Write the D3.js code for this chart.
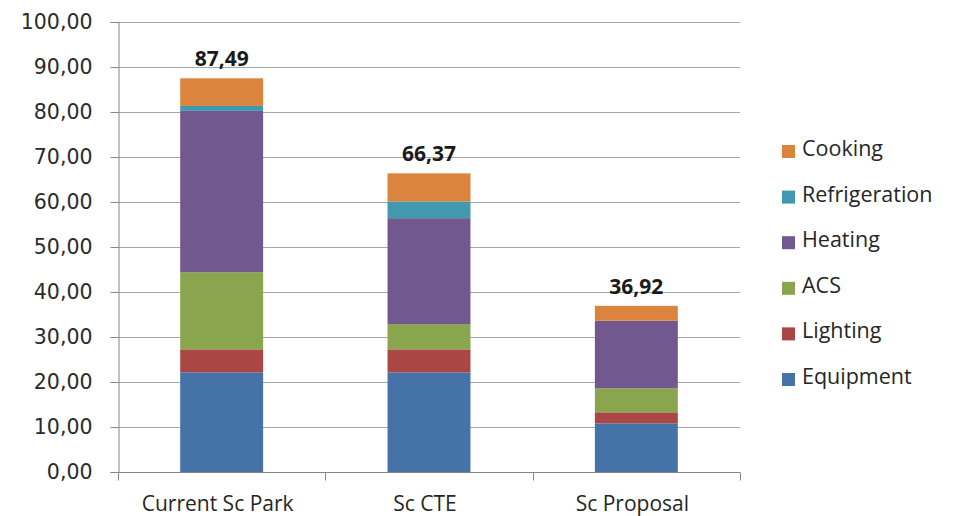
<!DOCTYPE html>
<html><head><meta charset="utf-8">
<script src="https://cdn.jsdelivr.net/npm/d3@7"></script>
<style>body{margin:0;background:#fff}svg{display:block}</style>
</head><body>
<script>
const categories = ["Current Sc Park", "Sc CTE", "Sc Proposal"];
const seriesNames = ["Equipment", "Lighting", "ACS", "Heating", "Refrigeration", "Cooking"];
const equipment = [22.15, 22.14, 10.81];
const lighting = [5.10, 5.11, 2.45];
const acs = [17.15, 5.62, 5.33];
const heating = [35.85, 23.54, 15.01];
const refrigeration = [1.10, 3.71, 0];
const cooking = [6.14, 6.25, 3.32];
const totals = [87.49, 66.37, 36.92];
const yTicks = [0, 10, 20, 30, 40, 50, 60, 70, 80, 90, 100];
const colors = ["#4572A7", "#AA4643", "#89A54E", "#71588F", "#4198AF", "#DB843D"];

const seriesValues = [equipment, lighting, acs, heating, refrigeration, cooking];
const rows = categories.map((c, i) => {
  const r = {cat: c};
  seriesNames.forEach((s, j) => r[s] = seriesValues[j][i]);
  return r;
});

const W = 955, H = 516;
const svg = d3.select("body").append("svg").attr("width", W).attr("height", H);
const mLeft = 118, mRight = 740, mTop = 22, mBottom = 472;

const x = d3.scaleBand().domain(categories).range([mLeft, mRight]).paddingInner(0.6).paddingOuter(0.3);
const xb = d3.scaleBand().domain(categories).range([mLeft, mRight]);
const y = d3.scaleLinear().domain([0, 100]).range([mBottom, mTop]);

// gridlines
svg.append("g").selectAll("line").data(yTicks.filter(d => d > 0)).join("line")
  .attr("x1", mLeft).attr("x2", mRight)
  .attr("y1", d => Math.round(y(d)) + 0.5).attr("y2", d => Math.round(y(d)) + 0.5)
  .attr("stroke", "#A6A6A6").attr("stroke-width", 1);

// stacked bars
const stack = d3.stack().keys(seriesNames)(rows);
svg.append("g").selectAll("g").data(stack).join("g")
  .attr("fill", (d, i) => colors[i])
  .selectAll("rect").data(d => d).join("rect")
  .attr("x", d => x(d.data.cat))
  .attr("width", x.bandwidth())
  .attr("y", d => y(d[1]))
  .attr("height", d => y(d[0]) - y(d[1]));

// y axis
const yAxis = d3.axisLeft(y).tickValues(yTicks).tickSize(8).tickPadding(18)
  .tickFormat(d => d3.format(".2f")(d).replace(".", ","));
const gy = svg.append("g").attr("transform", `translate(${mLeft + 0.5},0)`).call(yAxis);
gy.select(".domain").attr("stroke", "#868686");
gy.selectAll(".tick line").attr("stroke", "#868686");
gy.selectAll(".tick text").attr("font-family", "'DejaVu Sans', Verdana, sans-serif")
  .attr("font-size", 20.5).attr("fill", "#2b2b2b");

// x axis
const gx = svg.append("g").attr("transform", `translate(0,${mBottom + 0.5})`);
gx.append("line").attr("x1", mLeft).attr("x2", mRight).attr("stroke", "#868686");
const bounds = [mLeft, ...categories.map(c => xb(c) + xb.bandwidth())];
gx.selectAll("line.tk").data(bounds).join("line").attr("class", "tk")
  .attr("x1", d => Math.round(d) + 0.5).attr("x2", d => Math.round(d) + 0.5)
  .attr("y1", 0).attr("y2", 8).attr("stroke", "#868686");
gx.selectAll("text").data(categories).join("text")
  .attr("x", d => xb(d) + xb.bandwidth() / 2 - 4).attr("y", 38)
  .attr("text-anchor", "middle")
  .attr("font-family", "'Open Sans', sans-serif").attr("font-size", 21)
  .attr("fill", "#262626").text(d => d);

// totals labels
svg.append("g").selectAll("text").data(categories).join("text")
  .attr("x", d => x(d) + x.bandwidth() / 2)
  .attr("y", (d, i) => y(totals[i]) - 12)
  .attr("text-anchor", "middle")
  .attr("font-family", "'Open Sans', sans-serif").attr("font-weight", "bold")
  .attr("font-size", 21).attr("fill", "#1a1a1a")
  .text((d, i) => d3.format(".2f")(totals[i]).replace(".", ","));

// legend
const legendOrder = seriesNames.map((s, i) => i).reverse();
const lg = svg.append("g").selectAll("g").data(legendOrder).join("g")
  .attr("transform", (d, k) => `translate(782,${151 + k * 45.6})`);
lg.append("rect").attr("x", 0).attr("y", -6).attr("width", 13).attr("height", 13)
  .attr("fill", d => colors[d]);
lg.append("text").attr("x", 20).attr("y", 5)
  .attr("font-family", "'Open Sans', sans-serif").attr("font-size", 21.5)
  .attr("fill", "#262626").text(d => seriesNames[d]);
</script>
</body></html>
